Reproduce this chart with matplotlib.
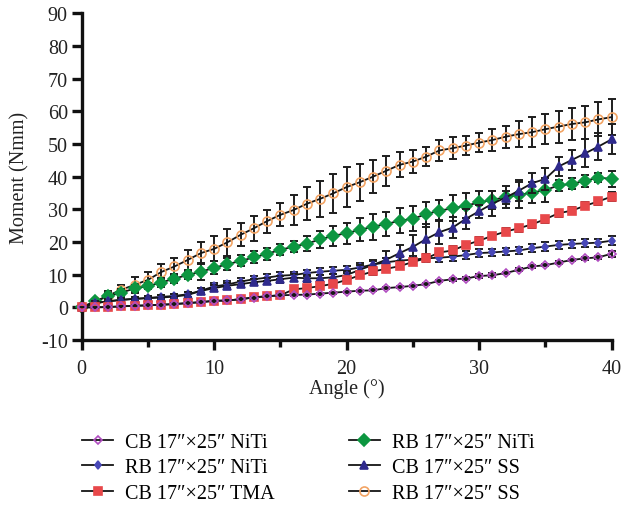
import numpy as np
import matplotlib
matplotlib.use("Agg")
import matplotlib.pyplot as plt
from matplotlib.ticker import MultipleLocator, FuncFormatter

plt.rcParams['font.family'] = ['Liberation Serif', 'DejaVu Serif']
plt.rcParams['axes.unicode_minus'] = False

angle = np.arange(0, 41)

cb_niti = [0, 0, 0.1, 0.3, 0.5, 0.6, 0.8, 1.0, 1.3, 1.6, 2.0, 2.1, 2.5, 3.0, 3.4,
           3.7, 3.8, 3.9, 4.2, 4.5, 4.8, 5.1, 5.2, 5.9, 6.2, 6.6, 7.1, 8.1, 8.6,
           8.8, 9.6, 9.8, 10.5, 11.5, 12.5, 12.9, 13.7, 14.5, 15.0, 15.3, 16.4]
cb_niti_err = [0, 0.2, 0.2, 0.2, 0.2, 0.3, 0.3, 0.3, 0.3, 0.3, 0.3, 0.3, 0.3, 0.3, 0.3,
               0.3, 0.3, 0.3, 0.3, 0.3, 0.3, 0.3, 0.3, 0.3, 0.3, 0.3, 0.3, 0.3, 0.4,
               0.4, 0.7, 0.6, 0.4, 0.4, 0.4, 0.4, 0.4, 0.4, 0.5, 0.5, 0.9]

rb_niti = [0, 1.3, 1.9, 2.3, 2.6, 2.9, 3.2, 3.5, 4.0, 5.1, 6.4, 7.0, 7.9, 8.6, 9.1,
           9.7, 9.9, 10.5, 10.9, 11.2, 11.5, 12.2, 13.1, 13.8, 14.3, 14.6, 15.0,
           15.2, 15.5, 16.0, 16.6, 16.8, 17.1, 17.4, 18.1, 18.6, 19.1, 19.4, 19.6,
           19.8, 20.4]
rb_niti_err = [0, 0.5, 0.6, 0.6, 0.6, 0.7, 0.7, 0.7, 0.8, 0.8, 1.0, 1.0, 1.0, 1.0, 1.0,
               1.0, 1.0, 1.0, 1.0, 1.0, 1.0, 1.5, 1.2, 1.2, 1.2, 1.2, 1.2, 1.2, 1.2,
               1.2, 1.2, 1.2, 1.2, 1.2, 1.3, 1.3, 1.3, 1.2, 1.2, 1.2, 1.3]

cb_tma = [0, 0, 0.1, 0.3, 0.5, 0.6, 0.8, 1.0, 1.3, 1.6, 2.0, 2.1, 2.5, 3.1, 3.4,
          3.7, 5.5, 5.9, 6.5, 7.2, 8.4, 9.8, 11.0, 11.8, 12.6, 13.9, 15.0, 16.8,
          17.4, 19.1, 20.4, 21.9, 23.2, 24.2, 25.4, 27.0, 28.8, 29.6, 31.1, 32.4, 33.9]
cb_tma_err = [0, 0.2, 0.2, 0.2, 0.3, 0.3, 0.3, 0.3, 0.3, 0.3, 0.3, 0.3, 0.3, 0.3, 0.3,
              0.4, 0.4, 0.4, 0.4, 0.4, 0.5, 0.8, 1.2, 0.6, 0.6, 0.7, 0.7, 0.9, 1.3,
              1.0, 1.2, 1.0, 1.0, 1.0, 1.1, 1.1, 1.1, 1.0, 1.1, 1.1, 1.3]

rb_niti_g = [0, 1.8, 3.4, 4.5, 5.8, 6.5, 7.6, 8.8, 9.9, 10.9, 12.1, 13.2, 14.2, 15.3,
             16.4, 17.6, 18.6, 19.5, 20.8, 21.9, 22.7, 23.7, 24.7, 25.5, 26.5, 27.1,
             28.5, 29.6, 30.3, 31.1, 32.1, 32.9, 33.7, 34.4, 35.1, 35.9, 37.3, 37.8,
             38.7, 39.7, 39.3]
rb_niti_g_err = [0, 0.8, 1.0, 1.0, 1.0, 1.0, 1.3, 1.3, 1.3, 2.6, 2.0, 1.8, 1.7, 1.8,
                 1.8, 1.7, 1.8, 2.2, 2.5, 3.0, 3.2, 3.5, 4.0, 3.7, 3.8, 3.8, 3.8, 3.3,
                 4.0, 3.8, 3.4, 2.8, 3.3, 4.0, 3.3, 3.8, 1.8, 1.7, 1.8, 1.4, 2.5]

cb_ss = [0, 1.3, 1.8, 2.3, 2.6, 2.8, 3.0, 3.3, 3.8, 5.0, 5.9, 6.6, 7.1, 7.7, 8.1,
         8.6, 9.1, 8.9, 8.9, 9.2, 9.9, 11.5, 13.0, 14.6, 16.6, 18.5, 20.9, 23.0,
         24.4, 27.1, 29.4, 31.7, 33.6, 35.7, 38.0, 39.3, 43.1, 45.1, 47.1, 49.2, 51.4]
cb_ss_err = [0, 0.5, 0.6, 0.6, 0.6, 0.7, 0.8, 0.8, 0.8, 0.9, 1.0, 1.0, 1.0, 1.0, 1.0,
             1.0, 1.0, 1.0, 1.0, 1.0, 1.1, 1.5, 1.5, 2.5, 2.5, 3.5, 4.5, 3.6, 3.3,
             3.0, 2.0, 3.8, 2.0, 3.3, 3.0, 3.3, 3.0, 3.0, 4.3, 4.0, 4.6]

rb_ss = [0, 1.8, 3.6, 5.4, 6.9, 8.4, 10.8, 12.5, 14.5, 16.6, 17.9, 19.9, 22.2, 24.2,
         26.4, 28.3, 29.8, 31.7, 33.2, 34.9, 36.8, 38.3, 40.0, 41.8, 43.6, 44.6,
         46.1, 48.0, 48.7, 49.5, 50.4, 51.2, 52.2, 53.0, 53.6, 54.5, 55.3, 56.1,
         56.6, 57.5, 58.2]
rb_ss_err = [0, 0.8, 1.5, 1.5, 2.5, 2.5, 2.5, 2.5, 3.0, 3.3, 3.8, 4.2, 3.5, 3.8, 3.5,
             3.5, 4.5, 5.1, 5.5, 6.0, 6.0, 5.7, 5.0, 4.6, 3.8, 3.4, 3.0, 3.3, 3.3,
             3.0, 3.0, 3.4, 3.3, 4.0, 4.5, 4.6, 4.9, 4.9, 5.1, 5.2, 5.6]

labels = ['CB 17\u2033\u00d725\u2033 NiTi', 'RB 17\u2033\u00d725\u2033 NiTi',
          'CB 17\u2033\u00d725\u2033 TMA', 'RB 17\u2033\u00d725\u2033 NiTi',
          'CB 17\u2033\u00d725\u2033 SS', 'RB 17\u2033\u00d725\u2033 SS']

series = [
    (cb_niti, cb_niti_err, 'D', '#b04cc0', 'none', 4.5, 6),
    (rb_niti, rb_niti_err, 'd', '#4848b8', '#4848b8', 4.5, 3),
    (cb_tma, cb_tma_err, 's', '#e8484a', '#e8484a', 5.5, 5),
    (rb_niti_g, rb_niti_g_err, 'D', '#0c9640', '#0c9640', 6.5, 2),
    (cb_ss, cb_ss_err, '^', '#2f2a8c', '#2f2a8c', 6, 4),
    (rb_ss, rb_ss_err, 'o', '#f3a464', 'none', 6.5, 1),
]

FS = 14.5

fig = plt.figure(figsize=(6.22, 5.06), dpi=100)
ax = fig.add_axes([0.1313, 0.326, 0.852, 0.646])

handles = []
for (vals, err, mk, col, face, ms, z), lab in zip(series, labels):
    ax.errorbar(angle, vals, yerr=err, fmt='none', ecolor='#1e1e1e',
                elinewidth=1.4, capsize=3.2, capthick=1.4, zorder=z, clip_on=False)
    h, = ax.plot(angle, vals, '-', color='#151515', lw=1.3, marker=mk,
                 ms=ms, mfc=face, mec=col, mew=1.2, label=lab, zorder=z + 0.5,
                 clip_on=False)
    handles.append(h)

ax.set_xlim(0, 40)
ax.set_ylim(-10, 90)
ax.xaxis.set_major_locator(MultipleLocator(10))
ax.xaxis.set_minor_locator(MultipleLocator(5))
ax.yaxis.set_major_locator(MultipleLocator(10))
ax.yaxis.set_major_formatter(FuncFormatter(lambda v, p: str(int(round(v)))))

for s in ['top', 'right']:
    ax.spines[s].set_visible(False)
for s in ['left', 'bottom']:
    ax.spines[s].set_linewidth(2.4)
    ax.spines[s].set_color('#111111')

ax.tick_params(axis='both', which='major', length=7, width=2.4, labelsize=FS,
               color='#111111', labelcolor='#222222')
ax.tick_params(axis='x', which='minor', length=5, width=2.4, color='#111111')
ax.tick_params(axis='x', which='major', pad=7)
ax.tick_params(axis='y', which='major', pad=3)

ax.set_xlabel('Angle (\u00b0)', fontsize=FS, color='#222222', labelpad=0)
ax.set_ylabel('Moment (Nmm)', fontsize=FS, color='#222222', labelpad=8)

fig.legend(handles=handles, loc='upper left', bbox_to_anchor=(0.132, 0.143),
           ncol=2, frameon=False, fontsize=FS, handlelength=1.55,
           handletextpad=0.6, columnspacing=3.65, labelspacing=0.33,
           borderaxespad=0, borderpad=0)

fig.savefig('out.png', dpi=100)
